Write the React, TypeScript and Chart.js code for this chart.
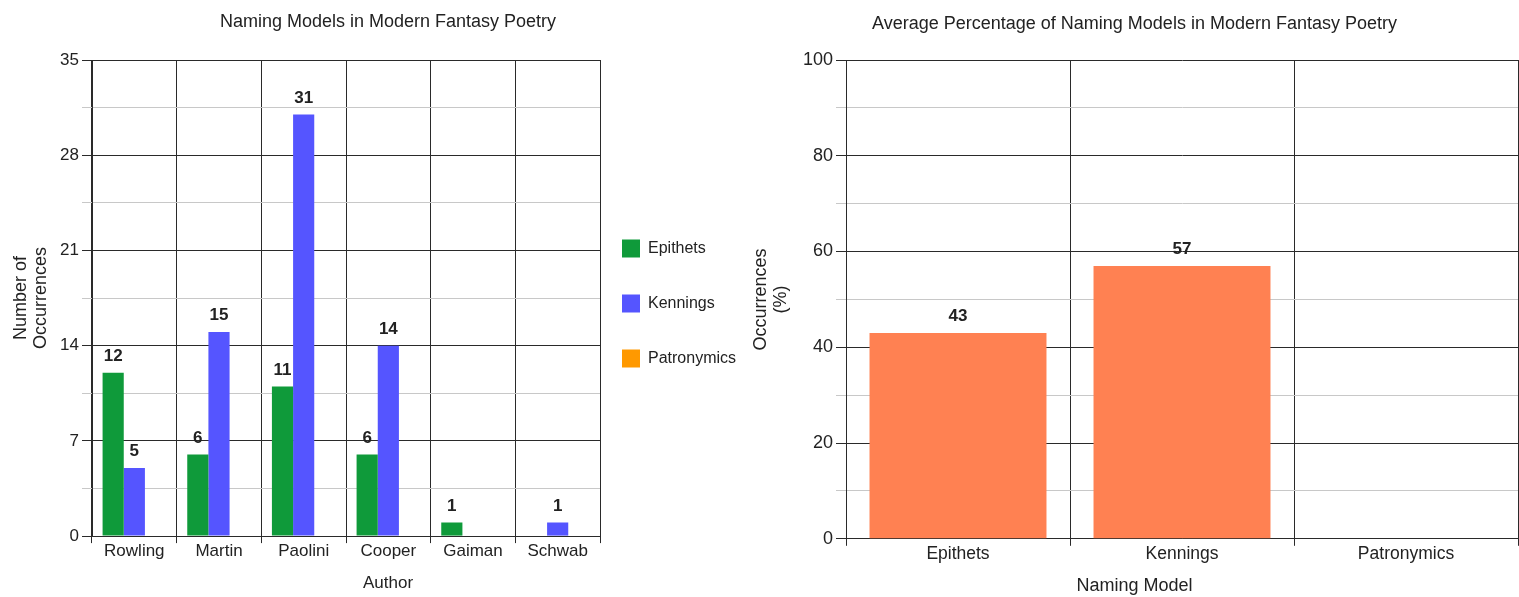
import React, { useEffect, useRef } from 'react';
import { Chart, registerables } from 'chart.js';

Chart.register(...registerables);

// ---------- data ----------
const authors = ['Rowling', 'Martin', 'Paolini', 'Cooper', 'Gaiman', 'Schwab'];
const epithets = [12, 6, 11, 6, 1, 0];
const kennings = [5, 15, 31, 14, 0, 1];
const patronymics = [0, 0, 0, 0, 0, 0];

const namingModels = ['Epithets', 'Kennings', 'Patronymics'];
const averagePercent = [43, 57, 0];

const leftTitle = 'Naming Models in Modern Fantasy Poetry';
const rightTitle = 'Average Percentage of Naming Models in Modern Fantasy Poetry';

// ---------- styling ----------
const FONT = "'Liberation Sans', Arial, Helvetica, sans-serif";
const TEXT = '#222';
const MAJOR = '#2a2a2a';
const MINOR = '#c8c8c8';
const GREEN = '#0f9a3a';
const BLUE = '#5555ff';
const ORANGE = '#ff9900';
const CORAL = '#ff8152';

Chart.defaults.font.family = FONT;
Chart.defaults.color = TEXT;

const valueLabels = {
  id: 'valueLabels',
  afterDatasetsDraw(chart: any, _args: any, opts: any) {
    const ctx = chart.ctx;
    ctx.save();
    ctx.font = `bold ${opts.size || 17}px ${FONT}`;
    ctx.fillStyle = TEXT;
    ctx.textAlign = 'center';
    ctx.textBaseline = 'middle';
    chart.data.datasets.forEach((ds: any, i: number) => {
      const meta = chart.getDatasetMeta(i);
      if (meta.hidden) return;
      meta.data.forEach((el: any, j: number) => {
        const v = ds.data[j];
        if (v > 0) ctx.fillText(String(v), el.x, el.y - (opts.offset || 16));
      });
    });
    ctx.restore();
  },
};

// fixes the legend box width and nudges where its items are drawn
const legendPlace = {
  id: 'legendPlace',
  beforeLayout(chart: any, _args: any, opts: any) {
    const lg = chart.legend;
    if (lg && opts && opts.width && !lg._fixedFit) {
      const orig = lg.fit;
      lg.fit = function () {
        orig.call(this);
        this.width = opts.width;
      };
      lg._fixedFit = true;
    }
  },
  afterLayout(chart: any, _args: any, opts: any) {
    const lg = chart.legend;
    if (!lg || !opts) return;
    const dx = opts.dx || 0;
    const dy = opts.dy || 0;
    lg.left += dx;
    lg.right += dx;
    lg.top += dy;
    lg.bottom += dy;
  },
};

function yScale(max: number, step: number, major: number, width: number, title: string[], titlePad: number, tickSize: number) {
  return {
    min: 0,
    max,
    afterFit: (s: any) => {
      s.width = width;
    },
    ticks: {
      stepSize: step,
      autoSkip: false,
      padding: 3,
      color: TEXT,
      font: { size: tickSize },
      callback: (v: any) => (Math.abs(v % major) < 1e-6 ? String(v) : ''),
    },
    grid: {
      color: (c: any) => (c.tick && Math.abs(c.tick.value % major) < 1e-6 ? MAJOR : MINOR),
      tickLength: 10,
      lineWidth: 1,
    },
    border: { color: MAJOR },
    title: {
      display: true,
      text: title,
      color: TEXT,
      font: { size: 18, lineHeight: 1.1 },
      padding: { top: titlePad, bottom: 0 },
    },
  };
}

function xScale(height: number, tickSize: number) {
  return {
    afterFit: (s: any) => {
      s.height = height;
    },
    ticks: {
      color: TEXT,
      padding: 0,
      font: { size: tickSize, lineHeight: 1 },
      maxRotation: 0,
    },
    grid: { color: MAJOR, tickLength: 7, offset: true },
    border: { color: MAJOR },
  };
}

function LeftChart() {
  const ref = useRef<HTMLCanvasElement>(null);
  useEffect(() => {
    const chart = new Chart(ref.current as HTMLCanvasElement, {
      type: 'bar',
      data: {
        labels: authors,
        datasets: [
          { label: 'Epithets', data: epithets, backgroundColor: GREEN, categoryPercentage: 0.75, barPercentage: 1 },
          { label: 'Kennings', data: kennings, backgroundColor: BLUE, categoryPercentage: 0.75, barPercentage: 1 },
          { label: 'Patronymics', data: patronymics, backgroundColor: ORANGE, categoryPercentage: 0.75, barPercentage: 1 },
        ],
      },
      options: {
        animation: false,
        responsive: true,
        maintainAspectRatio: false,
        layout: { padding: 0 },
        scales: {
          x: xScale(37, 17),
          y: yScale(35, 3.5, 7, 92, ['Number of', 'Occurrences'], 11, 17),
        },
        plugins: {
          title: {
            display: true,
            text: leftTitle,
            color: TEXT,
            font: { size: 18, weight: 'normal' },
            padding: { top: 11, bottom: 27.4 },
          },
          subtitle: {
            display: true,
            position: 'bottom',
            text: 'Author',
            color: TEXT,
            font: { size: 17 },
            padding: { top: 0, bottom: 3.5 },
          },
          legend: {
            display: true,
            position: 'right',
            labels: {
              boxWidth: 18,
              boxHeight: 18,
              padding: 37,
              color: TEXT,
              font: { size: 16 },
            },
          },
          tooltip: { enabled: false },
          valueLabels: { size: 17, offset: 16.5 },
          legendPlace: { width: 176, dx: -15, dy: 5 },
        } as any,
      },
      plugins: [valueLabels, legendPlace],
    } as any);
    return () => chart.destroy();
  }, []);
  return <canvas ref={ref} />;
}

function RightChart() {
  const ref = useRef<HTMLCanvasElement>(null);
  useEffect(() => {
    const chart = new Chart(ref.current as HTMLCanvasElement, {
      type: 'bar',
      data: {
        labels: namingModels,
        datasets: [
          { label: 'Occurrences (%)', data: averagePercent, backgroundColor: CORAL, categoryPercentage: 0.79, barPercentage: 1 },
        ],
      },
      options: {
        animation: false,
        responsive: true,
        maintainAspectRatio: false,
        layout: { padding: { left: 0, right: 1, top: 0, bottom: 0 } },
        scales: {
          x: xScale(36.6, 17.5),
          y: yScale(100, 10, 20, 95, ['Occurrences', '(%)'], 0, 18),
        },
        plugins: {
          title: {
            display: true,
            text: rightTitle,
            color: TEXT,
            font: { size: 18, weight: 'normal' },
            padding: { top: 13.2, bottom: 25.2 },
          },
          subtitle: {
            display: true,
            position: 'bottom',
            text: 'Naming Model',
            color: TEXT,
            font: { size: 18 },
            padding: { top: 0, bottom: 0 },
          },
          legend: { display: false },
          tooltip: { enabled: false },
          valueLabels: { size: 17, offset: 16.5 },
        } as any,
      },
      plugins: [valueLabels],
    } as any);
    return () => chart.destroy();
  }, []);
  return <canvas ref={ref} />;
}

export default function App() {
  return (
    <div style={{ position: 'fixed', left: 0, top: 0, width: 1519, height: 597, background: '#fff' }}>
      <div style={{ position: 'absolute', left: 0, top: 0, width: 776, height: 597 }}>
        <LeftChart />
      </div>
      <div style={{ position: 'absolute', left: 751, top: 0, width: 768, height: 597 }}>
        <RightChart />
      </div>
    </div>
  );
}
